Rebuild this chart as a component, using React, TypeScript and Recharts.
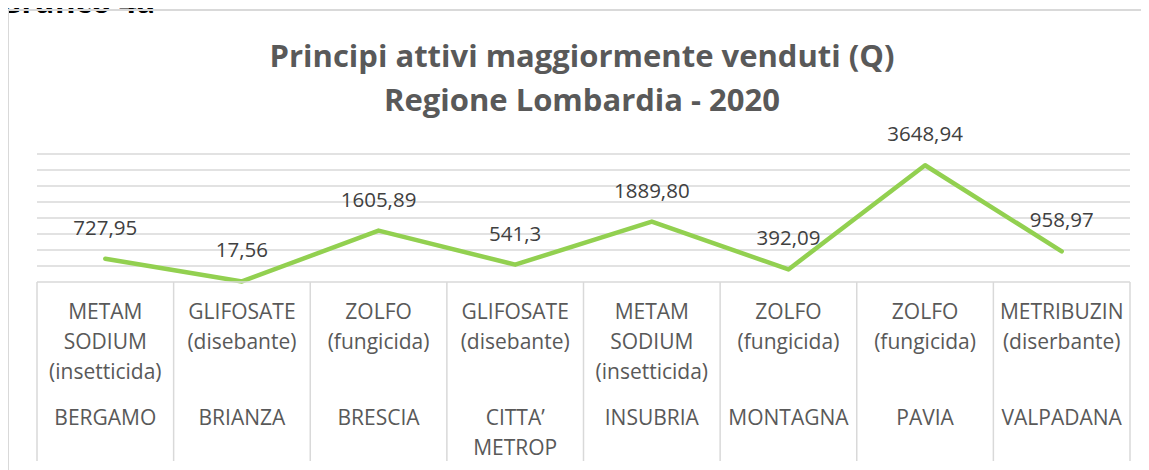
import React from 'react';
import { LineChart, Line, XAxis, YAxis, ReferenceLine } from 'recharts';

// Principi attivi maggiormente venduti per ambito territoriale
const provinces = ['BERGAMO', 'BRIANZA', 'BRESCIA', 'CITTA’\nMETROP', 'INSUBRIA', 'MONTAGNA', 'PAVIA', 'VALPADANA'];
const products = [
  'METAM\nSODIUM\n(insetticida)',
  'GLIFOSATE\n(disebante)',
  'ZOLFO\n(fungicida)',
  'GLIFOSATE\n(disebante)',
  'METAM\nSODIUM\n(insetticida)',
  'ZOLFO\n(fungicida)',
  'ZOLFO\n(fungicida)',
  'METRIBUZIN\n(diserbante)',
];
const quantities = [727.95, 17.56, 1605.89, 541.3, 1889.8, 392.09, 3648.94, 958.97];
const quantityLabels = ['727,95', '17,56', '1605,89', '541,3', '1889,80', '392,09', '3648,94', '958,97'];
const yTicks = [500, 1000, 1500, 2000, 2500, 3000, 3500, 4000];

const data = provinces.map((p, i) => ({
  name: p,
  product: products[i],
  value: quantities[i],
  label: quantityLabels[i],
}));

const CHART_W = 1141;
const CHART_H = 462;
const MARGIN = { top: 146, right: 19, bottom: 0, left: 29 };
const PLOT_W = CHART_W - MARGIN.left - MARGIN.right;
const COL_W = PLOT_W / provinces.length;
const FONT = '"Open Sans", "Liberation Sans", sans-serif';
const GRID = '#d9d9d9';

const CategoryTick = (props: any) => {
  const { x, y, index } = props;
  const lines = products[index].split('\n');
  const prov = provinces[index].split('\n');
  const left = x - COL_W / 2;
  const last = index === provinces.length - 1;
  return (
    <g>
      <line x1={left} x2={left} y1={y} y2={y + 179} stroke={GRID} strokeWidth={1.5} />
      {last && (
        <line x1={x + COL_W / 2} x2={x + COL_W / 2} y1={y} y2={y + 179} stroke={GRID} strokeWidth={1.5} />
      )}
      {lines.map((t, k) => (
        <text key={'p' + k} x={x} y={y + 29 + k * 30} textAnchor="middle" dominantBaseline="central"
          fontSize={21} fill="#595959" fontFamily={FONT}>{t}</text>
      ))}
      {prov.map((t, k) => (
        <text key={'r' + k} x={x} y={y + 135 + k * 30} textAnchor="middle" dominantBaseline="central"
          fontSize={21} fill="#595959" fontFamily={FONT}>{t}</text>
      ))}
    </g>
  );
};

const ValueLabel = (props: any) => {
  const { x, y, index } = props;
  return (
    <text x={x} y={y - 32} textAnchor="middle" dominantBaseline="central"
      fontSize={20.5} fill="#404040" fontFamily={FONT}>{quantityLabels[index]}</text>
  );
};

export default function App() {
  return (
    <div style={{ position: 'relative', width: CHART_W, height: CHART_H, overflow: 'visible' }}>
      <div style={{
        position: 'absolute', left: -9, top: -22, fontFamily: FONT, fontWeight: 700,
        fontSize: 31, lineHeight: '31px', color: '#000', whiteSpace: 'nowrap',
      }}>Grafico 4a</div>
      <div style={{
        position: 'absolute', left: -1, top: 1, width: CHART_W + 20, height: CHART_H + 20,
        borderLeft: `2px solid ${GRID}`, borderTop: `2px solid ${GRID}`, background: 'transparent',
      }} />
      <div style={{
        position: 'absolute', left: 0, top: 25, width: 1148, textAlign: 'center',
        fontFamily: FONT, fontWeight: 700, fontSize: 31, lineHeight: '44px', color: '#595959',
      }}>
        Principi attivi maggiormente venduti (Q)<br />Regione Lombardia - 2020
      </div>
      <div style={{ position: 'absolute', left: 0, top: 0 }}>
        <LineChart width={CHART_W} height={CHART_H} data={data} margin={MARGIN}>
          <XAxis dataKey="name" interval={0} padding={{ left: COL_W / 2, right: COL_W / 2 }}
            height={188} tickSize={0} tickMargin={0} tickLine={false}
            axisLine={{ stroke: GRID, strokeWidth: 1.5 }} tick={<CategoryTick />} />
          <YAxis hide domain={[0, 4000]} />
          {yTicks.map((v) => (
            <ReferenceLine key={v} y={v} stroke={GRID} strokeWidth={1.5} />
          ))}
          <Line type="linear" dataKey="value" stroke="#92D050" strokeWidth={4.5}
            strokeLinecap="round" strokeLinejoin="round" dot={false}
            isAnimationActive={false} label={<ValueLabel />} />
        </LineChart>
      </div>
    </div>
  );
}
